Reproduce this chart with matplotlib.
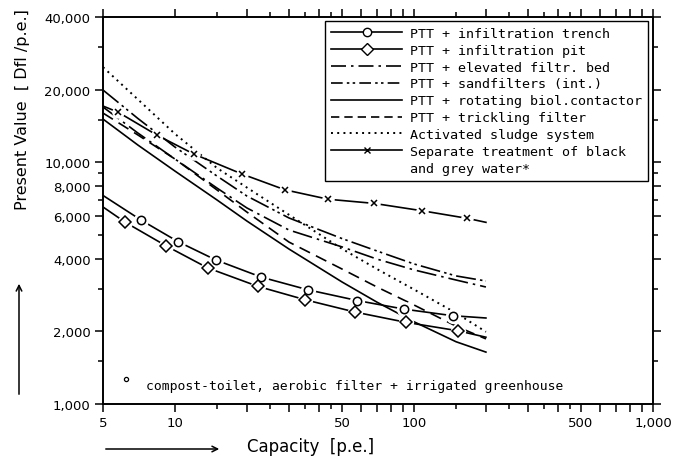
import matplotlib
matplotlib.use("Agg")
import matplotlib.pyplot as plt
from matplotlib.lines import Line2D
from matplotlib.ticker import FixedLocator, FuncFormatter, NullFormatter

# capacity grid (p.e.) used for the smooth curves
cap = [5, 7, 10, 15, 20, 30, 50, 70, 100, 150, 200]

elevated_y = [16960, 13230, 10330, 7830, 6480, 5250, 4470, 3980, 3590, 3260, 3050]
sandfilter_y = [19940, 15200, 11580, 8780, 7260, 5890, 4840, 4300, 3800, 3390, 3230]
rotating_y = [15120, 11800, 9210, 6990, 5720, 4380, 3200, 2640, 2190, 1810, 1640]
trickling_y = [16010, 12990, 10330, 7690, 6230, 4680, 3620, 3050, 2570, 2100, 1860]
activated_y = [24800, 18230, 13130, 9480, 7870, 6070, 4390, 3620, 2980, 2380, 1990]

# curves with markers (first and last point are line ends)
trench_x = [5, 7.2, 10.3, 14.8, 23, 36, 58, 91, 145, 200]
trench_y = [7300, 5780, 4700, 3950, 3350, 2970, 2680, 2470, 2320, 2270]
pit_x = [5, 6.2, 9.2, 13.7, 22.2, 35.1, 56.9, 92.2, 152.7, 200]
pit_y = [6540, 5650, 4510, 3660, 3070, 2700, 2400, 2180, 2010, 1890]
separate_x = [5, 5.8, 8.4, 12, 19.1, 28.9, 43.8, 67.9, 108, 167, 200]
separate_y = [17120, 16120, 12980, 10830, 8950, 7700, 7040, 6770, 6310, 5870, 5650]

compost_x = [6.25]
compost_y = [1270]

labels = ["PTT + infiltration trench", "PTT + infiltration pit",
          "PTT + elevated filtr. bed", "PTT + sandfilters (int.)",
          "PTT + rotating biol.contactor", "PTT + trickling filter",
          "Activated sludge system",
          "Separate treatment of black", "and grey water*"]

x_labeled = [5, 10, 50, 100, 500, 1000]
x_long = [5, 10, 20, 30, 40, 50, 60, 70, 80, 90, 100, 200, 300, 400, 500,
          600, 700, 800, 900, 1000]
x_short = [15, 25, 35, 45, 150, 250, 350, 450]
y_labeled = [1000, 2000, 4000, 6000, 8000, 10000, 20000, 40000]
y_short = [1500, 3000, 5000, 7000, 9000, 15000, 30000]

mono = "DejaVu Sans Mono"
lw = 1.2

fig = plt.figure(figsize=(6.73, 4.64), dpi=100)
ax = fig.add_axes([103 / 673, 1 - 405 / 464, 550 / 673, 387 / 464])
ax.set_xscale("log")
ax.set_yscale("log")

ax.plot(cap, activated_y, color="k", lw=1.4, dashes=(1, 2.2))
ax.plot(cap, elevated_y, color="k", lw=lw, dashes=(12, 3, 1.5, 3))
ax.plot(cap, sandfilter_y, color="k", lw=lw, dashes=(12, 2.5, 1.5, 2, 1.5, 2.5))
ax.plot(cap, rotating_y, color="k", lw=lw)
ax.plot(cap, trickling_y, color="k", lw=lw, dashes=(7, 4))

ax.plot(trench_x, trench_y, color="k", lw=lw)
ax.plot(pit_x, pit_y, color="k", lw=lw)
ax.plot(separate_x, separate_y, color="k", lw=lw)

# white gaps round the markers, then the markers
ax.plot(trench_x[1:-1], trench_y[1:-1], ls="none", marker="o", ms=11, mfc="w", mec="none", zorder=3)
ax.plot(pit_x[1:-1], pit_y[1:-1], ls="none", marker="o", ms=11, mfc="w", mec="none", zorder=3)
ax.plot(separate_x[1:-1], separate_y[1:-1], ls="none", marker="o", ms=9, mfc="w", mec="none", zorder=3)
ax.plot(trench_x[1:-1], trench_y[1:-1], ls="none", marker="o", ms=6, mfc="w", mec="k", mew=1.1, zorder=4)
ax.plot(pit_x[1:-1], pit_y[1:-1], ls="none", marker="D", ms=6, mfc="w", mec="k", mew=1.1, zorder=4)
ax.plot(separate_x[1:-1], separate_y[1:-1], ls="none", marker="x", ms=5, mec="k", mew=1.1, zorder=4)

ax.plot(compost_x, compost_y, ls="none", marker="o", ms=3, mfc="w", mec="k", mew=0.9)
ax.text(0.079, 0.049, "compost-toilet, aerobic filter + irrigated greenhouse",
        transform=ax.transAxes, family=mono, fontsize=9.4, va="center", ha="left")

ax.set_xlim(5, 1000)
ax.set_ylim(1000, 40000)

def fmt_x(v, p):
    return f"{int(round(v)):,}" if int(round(v)) in x_labeled else ""

def fmt_y(v, p):
    return f"{int(round(v)):,}" if int(round(v)) in y_labeled else ""

ax.xaxis.set_major_locator(FixedLocator(x_long))
ax.xaxis.set_minor_locator(FixedLocator(x_short))
ax.xaxis.set_major_formatter(FuncFormatter(fmt_x))
ax.xaxis.set_minor_formatter(NullFormatter())
ax.yaxis.set_major_locator(FixedLocator(y_labeled))
ax.yaxis.set_minor_locator(FixedLocator(y_short))
ax.yaxis.set_major_formatter(FuncFormatter(fmt_y))
ax.yaxis.set_minor_formatter(NullFormatter())

ax.tick_params(which="both", direction="out", top=True, right=True,
               labeltop=False, labelright=False, width=1.1, labelsize=9.5)
ax.tick_params(which="major", length=6, pad=3)
ax.tick_params(which="minor", length=3.5)
for s in ax.spines.values():
    s.set_linewidth(1.4)

handles = [
    Line2D([], [], color="k", lw=lw, marker="o", ms=6, mfc="w", mec="k"),
    Line2D([], [], color="k", lw=lw, marker="D", ms=6, mfc="w", mec="k"),
    Line2D([], [], color="k", lw=lw, dashes=(9, 3, 1.5, 3)),
    Line2D([], [], color="k", lw=lw, dashes=(7, 2.5, 1.5, 2, 1.5, 2.5)),
    Line2D([], [], color="k", lw=lw),
    Line2D([], [], color="k", lw=lw, dashes=(5, 3)),
    Line2D([], [], color="k", lw=1.4, dashes=(1, 2.2)),
    Line2D([], [], color="k", lw=lw, marker="x", ms=5, mec="k"),
    Line2D([], [], ls="none"),
]
leg = ax.legend(handles, labels, loc="upper right", bbox_to_anchor=(0.991, 0.99),
                borderaxespad=0, fancybox=False, edgecolor="k", framealpha=1,
                prop={"family": mono, "size": 9.6}, handlelength=5.3,
                handletextpad=0.6, labelspacing=0.29, borderpad=0.45, numpoints=1)
leg.get_frame().set_linewidth(1.0)

# axis titles with arrows
fig.text(23 / 673, 1 - 110 / 464, "Present Value  [ Dfl /p.e.]", rotation=90,
         ha="center", va="center", fontsize=11.5)
ax.annotate("", xy=(19 / 673, 1 - 282 / 464), xytext=(19 / 673, 1 - 398 / 464),
            xycoords="figure fraction", textcoords="figure fraction",
            arrowprops=dict(arrowstyle="->", lw=1.1, color="k"), annotation_clip=False)
fig.text(247 / 673, 1 - 447 / 464, "Capacity  [p.e.]", ha="left", va="center", fontsize=12)
ax.annotate("", xy=(222 / 673, 1 - 450 / 464), xytext=(103 / 673, 1 - 450 / 464),
            xycoords="figure fraction", textcoords="figure fraction",
            arrowprops=dict(arrowstyle="->", lw=1.1, color="k"), annotation_clip=False)

fig.savefig("out.png", dpi=100)
